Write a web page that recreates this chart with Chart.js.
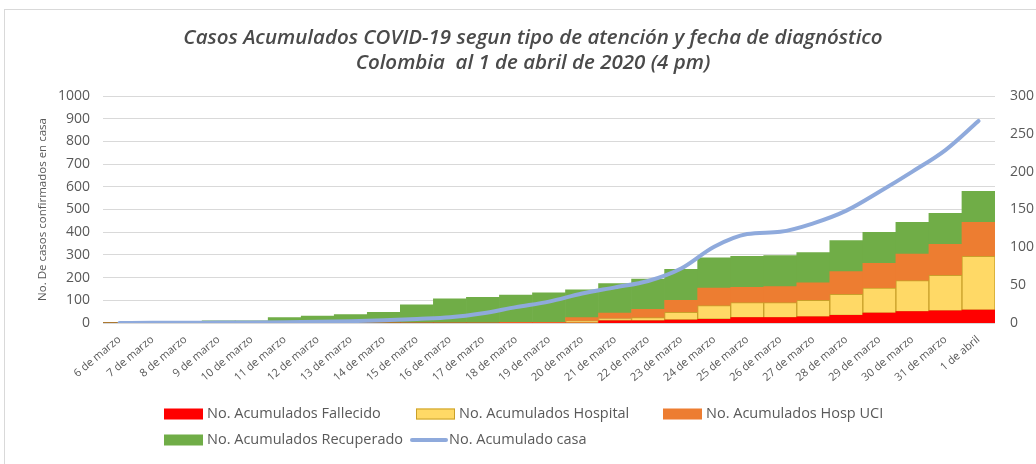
<!DOCTYPE html>
<html><head><meta charset="utf-8">
<script src="https://cdn.jsdelivr.net/npm/chart.js@4.4.0/dist/chart.umd.min.js"></script>
<style>html,body{margin:0;padding:0;background:#fff;overflow:hidden}</style>
</head><body>
<canvas id="c" width="1036" height="464"></canvas>
<script>
const categories = ['6 de marzo','7 de marzo','8 de marzo','9 de marzo','10 de marzo','11 de marzo','12 de marzo','13 de marzo','14 de marzo','15 de marzo','16 de marzo','17 de marzo','18 de marzo','19 de marzo','20 de marzo','21 de marzo','22 de marzo','23 de marzo','24 de marzo','25 de marzo','26 de marzo','27 de marzo','28 de marzo','29 de marzo','30 de marzo','31 de marzo','1 de abril'];
const fallecido  = [0,0,0,0,0,0,0,0,0,0,0,0,0,0,0,3,3,4,5,7,7,8,10,13,15,16,17];
const hospital   = [0,0,0,0,0,0,0,0,0,0,0,0,0,0,3,3,4,10,18,20,20,22,28,33,41,47,71];
const hospUci    = [0,0,0,0,0,0,0,0,0,0,0,0,1,1,4,7,11,16,23,20,21,23,30,33,35,41,45];
const recuperado = [1,1,1,3,3,7,9,11,14,24,32,34,36,39,37,39,40,41,40,41,41,40,41,41,42,41,41];
const casa       = [0,1,1,2,2,3,5,8,12,18,25,43,70,94,130,157,185,240,336,392,402,439,495,578,667,762,890];
const leftTicks = {min:0, max:1000, step:100};
const rightTicks = {min:0, max:300, step:50};
const titleLines = ['Casos Acumulados COVID-19 segun tipo de atención y fecha de diagnóstico','Colombia  al 1 de abril de 2020 (4 pm)'];
const leftAxisTitle = 'No. De casos confirmados en casa';

const FONT = "'Open Sans', sans-serif";
const GREY = '#595959';

const frame = {
  id:'frame',
  beforeDraw(chart){
    const ctx = chart.ctx;
    ctx.save();
    ctx.fillStyle = '#fff';
    ctx.fillRect(0,0,chart.width,chart.height);
    ctx.strokeStyle = '#D9D9D9';
    ctx.lineWidth = 1;
    ctx.strokeRect(4.5, 9.5, 1200, 600);
    ctx.restore();
  }
};

const customLegend = {
  id:'customLegend',
  afterDraw(chart){
    const ctx = chart.ctx;
    const ds = chart.data.datasets;
    const slots = [
      {i:0, x:164, y:414},
      {i:1, x:416, y:414},
      {i:2, x:663, y:414},
      {i:3, x:164, y:440},
      {i:4, x:412, y:440}
    ];
    ctx.save();
    ctx.font = '14.5px ' + FONT;
    ctx.textBaseline = 'middle';
    ctx.fillStyle = GREY;
    slots.forEach(s => {
      const d = ds[s.i];
      if (d.type === 'line') {
        ctx.strokeStyle = d.borderColor;
        ctx.lineWidth = 4;
        ctx.lineCap = 'round';
        ctx.beginPath();
        ctx.moveTo(s.x, s.y);
        ctx.lineTo(s.x + 34, s.y);
        ctx.stroke();
        ctx.fillStyle = GREY;
        ctx.fillText(d.label, s.x + 37, s.y);
      } else {
        ctx.fillStyle = d.backgroundColor;
        ctx.fillRect(s.x, s.y - 5.5, 39, 11);
        if (d.borderWidth) {
          ctx.strokeStyle = d.borderColor;
          ctx.lineWidth = 1;
          ctx.strokeRect(s.x + 0.5, s.y - 5, 38, 10);
        }
        ctx.fillStyle = GREY;
        ctx.fillText(d.label, s.x + 43, s.y);
      }
    });
    ctx.restore();
  }
};

const barCommon = {type:'bar', yAxisID:'y1', barPercentage:1, categoryPercentage:1, order:1, stack:'s'};

new Chart(document.getElementById('c'), {
  data: {
    labels: categories,
    datasets: [
      Object.assign({label:'No. Acumulados Fallecido', data:fallecido, backgroundColor:'#FF0000', borderWidth:0}, barCommon),
      Object.assign({label:'No. Acumulados Hospital', data:hospital, backgroundColor:'#FFD966', borderColor:'#C9A02A', borderWidth:1, borderSkipped:false}, barCommon),
      Object.assign({label:'No. Acumulados Hosp UCI', data:hospUci, backgroundColor:'#ED7D31', borderWidth:0}, barCommon),
      Object.assign({label:'No. Acumulados Recuperado', data:recuperado, backgroundColor:'#70AD47', borderWidth:0}, barCommon),
      {type:'line', label:'No. Acumulado casa', data:casa, yAxisID:'y', borderColor:'#8FAADC', borderWidth:4, pointRadius:0, cubicInterpolationMode:'monotone', order:0, borderCapStyle:'round', borderJoinStyle:'round'}
    ]
  },
  options: {
    responsive:false,
    animation:false,
    devicePixelRatio:1,
    layout:{padding:{left:30, right:0, top:0, bottom:81}},
    plugins:{
      legend:{display:false},
      tooltip:{enabled:false},
      title:{display:true, text:titleLines, color:'#4A4A4A', font:{family:FONT, size:20.5, style:'italic', weight:'600', lineHeight:1.22}, padding:{top:25.5, bottom:20.5}}
    },
    scales:{
      x:{stacked:true, grid:{display:false}, border:{display:false},
         ticks:{autoSkip:false, minRotation:40, maxRotation:40, color:GREY, font:{family:FONT, size:11}, padding:2},
         afterFit(s){ s.height = 60; }},
      y:{position:'left', min:leftTicks.min, max:leftTicks.max,
         ticks:{stepSize:leftTicks.step, color:GREY, font:{family:FONT, size:14}, padding:13, callback:(v)=>String(v)},
         grid:{color:'#D9D9D9', drawTicks:false}, border:{display:false},
         title:{display:true, text:leftAxisTitle, color:GREY, font:{family:FONT, size:11.5}, padding:{top:6, bottom:0}},
         afterFit(s){ s.width = 73; }},
      y1:{position:'right', stacked:true, min:rightTicks.min, max:rightTicks.max,
         ticks:{stepSize:rightTicks.step, color:GREY, font:{family:FONT, size:14}, padding:15, callback:(v)=>String(v)},
         grid:{display:false, drawTicks:false}, border:{display:false},
         afterFit(s){ s.width = 41; }}
    }
  },
  plugins:[frame, customLegend]
});
</script>
</body></html>
